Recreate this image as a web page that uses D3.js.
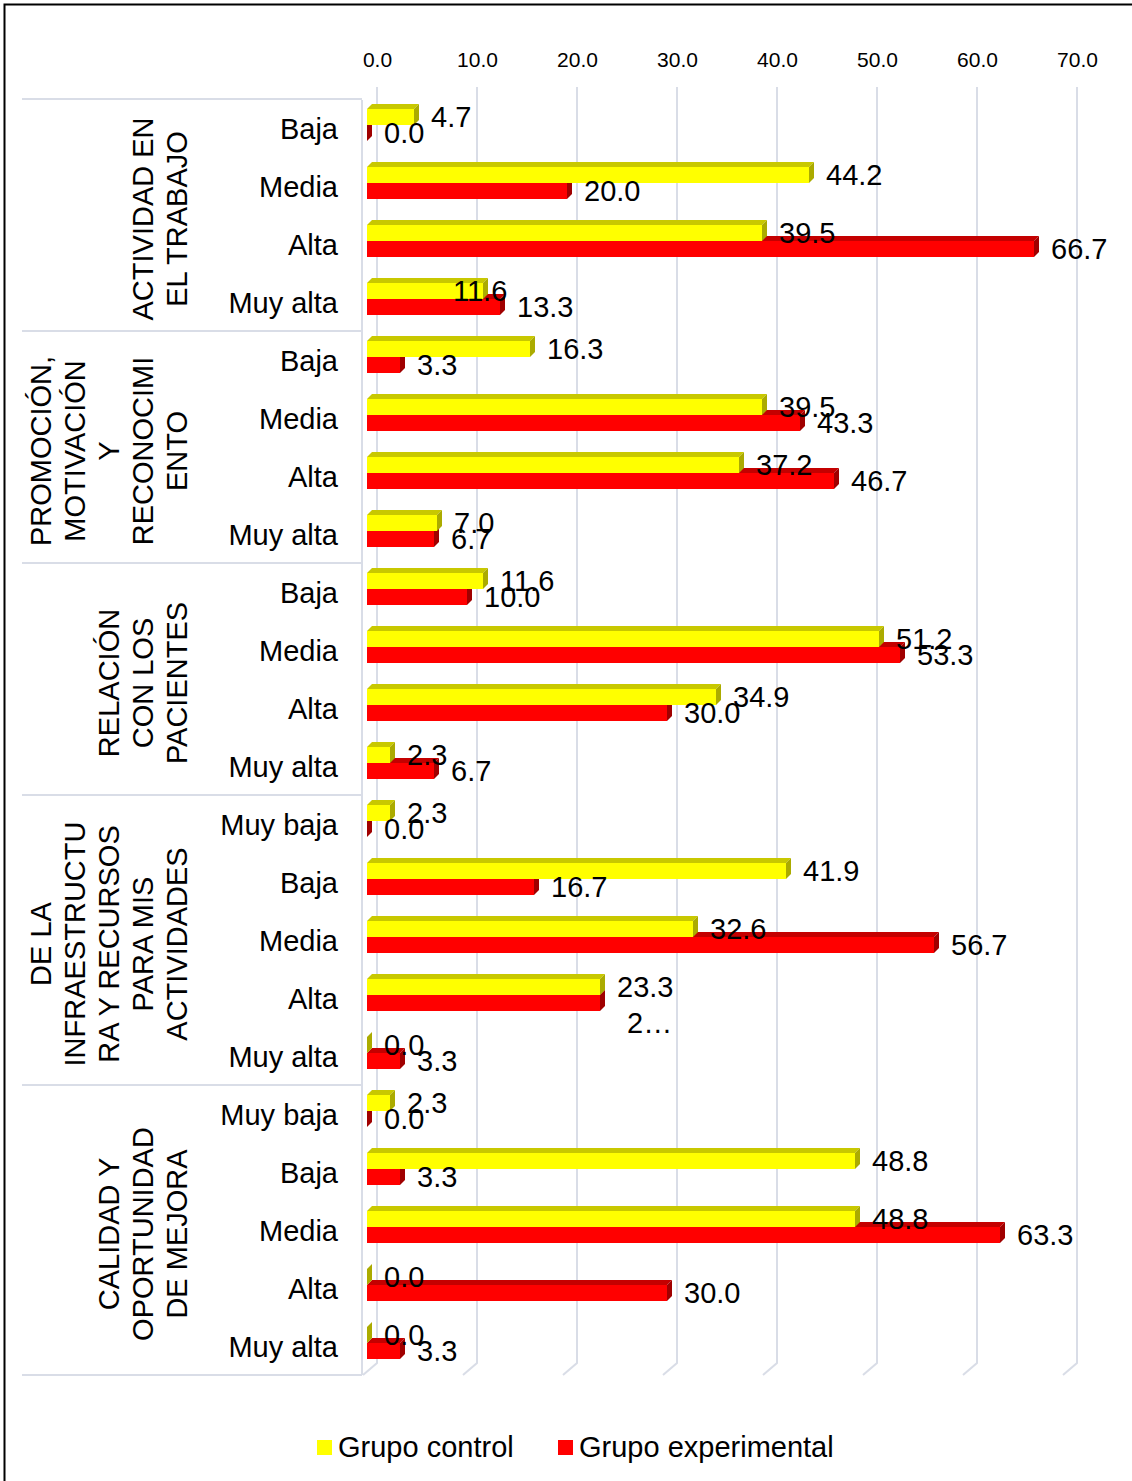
<!DOCTYPE html>
<html>
<head>
<meta charset="utf-8">
<script src="https://cdn.jsdelivr.net/npm/d3@7"></script>
<style>
  html, body { margin: 0; padding: 0; background: #fff; }
  svg { display: block; font-family: "Liberation Sans", Arial, sans-serif; }
</style>
</head>
<body>
<svg id="chart" width="1132" height="1481"></svg>
<script>
// Dimension names (wrapped as they are printed on the axis)
const groupLabels = [
  ["ACTIVIDAD EN", "EL TRABAJO"],
  ["PROMOCIÓN,", "MOTIVACIÓN", "Y", "RECONOCIMI", "ENTO"],
  ["RELACIÓN", "CON LOS", "PACIENTES"],
  ["DE LA", "INFRAESTRUCTU", "RA Y RECURSOS", "PARA MIS", "ACTIVIDADES"],
  ["CALIDAD Y", "OPORTUNIDAD", "DE MEJORA"]
];

// Levels inside each dimension
const groupCategories = [
  ["Baja", "Media", "Alta", "Muy alta"],
  ["Baja", "Media", "Alta", "Muy alta"],
  ["Baja", "Media", "Alta", "Muy alta"],
  ["Muy baja", "Baja", "Media", "Alta", "Muy alta"],
  ["Muy baja", "Baja", "Media", "Alta", "Muy alta"]
];

// Percentages per level
const grupoControl = [
  [4.7, 44.2, 39.5, 11.6],
  [16.3, 39.5, 37.2, 7.0],
  [11.6, 51.2, 34.9, 2.3],
  [2.3, 41.9, 32.6, 23.3, 0.0],
  [2.3, 48.8, 48.8, 0.0, 0.0]
];
const grupoExperimental = [
  [0.0, 20.0, 66.7, 13.3],
  [3.3, 43.3, 46.7, 6.7],
  [10.0, 53.3, 30.0, 6.7],
  [0.0, 16.7, 56.7, 23.3, 3.3],
  [0.0, 3.3, 63.3, 30.0, 3.3]
];

const tickValues = [0, 10, 20, 30, 40, 50, 60, 70];
const seriesNames = ["Grupo control", "Grupo experimental"];

// ---- flatten into rows ----
const rows = [];
groupCategories.forEach((cats, g) => {
  cats.forEach((c, k) => {
    rows.push({ id: g + "-" + k, group: g, cat: c,
                control: grupoControl[g][k], exp: grupoExperimental[g][k] });
  });
});

const svg = d3.select("#chart");
const W = 1132, H = 1481;

svg.append("rect").attr("width", W).attr("height", H).attr("fill", "#fff");
// outer frame
svg.append("rect").attr("x", 4.5).attr("y", 4.5).attr("width", 1300).attr("height", 1600)
  .attr("fill", "none").attr("stroke", "#000").attr("stroke-width", 2);

// scales
const x = d3.scaleLinear().domain([0, 70]).range([367, 1067]);
const y = d3.scaleBand().domain(rows.map(r => r.id)).range([100, 1376]).padding(0);

const wallDx = 10;           // back wall offset of the value grid
const floorDx = -14, floorDy = 12;
const gridTop = 87, gridBottom = 1363;
const depth = { dx: 5, dy: -5 };
const barH = 16;

const colors = {
  control: { front: "#FFFF00", top: "#C8C800", side: "#ABAB00" },
  exp:     { front: "#FF0000", top: "#C40000", side: "#A00000" }
};

// ---- value gridlines (back wall + floor) ----
const grid = svg.append("g").attr("fill", "none").attr("stroke", "#d9dde7").attr("stroke-width", 2);
tickValues.forEach(v => {
  const gx = x(v) + wallDx;
  grid.append("path")
    .attr("d", `M${gx},${gridTop}L${gx},${gridBottom}L${gx + floorDx},${gridBottom + floorDy}`);
});

// tick labels on top
const axisTop = d3.axisTop(d3.scaleLinear().domain([0, 70]).range([x(0) + wallDx, x(70) + wallDx]))
  .tickValues(tickValues).tickFormat(d3.format(".1f")).tickSize(0).tickPadding(0);
const axG = svg.append("g").attr("transform", "translate(0,67)").call(axisTop);
axG.select(".domain").remove();
axG.selectAll("text").attr("font-size", 21).attr("fill", "#000")
  .attr("font-family", "'Liberation Sans', Arial, sans-serif").attr("dy", 0);

// ---- category axis frame ----
const catG = svg.append("g").attr("stroke", "#d9dde7").attr("stroke-width", 2).attr("fill", "none");
catG.append("line").attr("x1", 362).attr("x2", 362).attr("y1", 100).attr("y2", 1375);
const groupStart = [];
let idx = 0;
groupCategories.forEach((cats, g) => { groupStart.push(idx); idx += cats.length; });
const bounds = groupStart.map(i => y(rows[i].id)).concat([y.range()[1]]);
bounds.forEach(b => {
  catG.append("line").attr("x1", 22).attr("x2", 362).attr("y1", b - 1).attr("y2", b - 1);
});

// ---- 3D bars ----
function bar3d(g, v, yTop, col) {
  const x0 = x(0), x1 = x(v);
  const { dx, dy } = depth;
  g.append("rect").attr("x", x0).attr("y", yTop).attr("width", Math.max(0, x1 - x0)).attr("height", barH)
    .attr("fill", col.front);
  g.append("path")
    .attr("d", `M${x0},${yTop}L${x1},${yTop}L${x1 + dx},${yTop + dy}L${x0 + dx},${yTop + dy}Z`)
    .attr("fill", col.top);
  g.append("path")
    .attr("d", `M${x1},${yTop}L${x1 + dx},${yTop + dy}L${x1 + dx},${yTop + barH + dy}L${x1},${yTop + barH}Z`)
    .attr("fill", col.side);
}

const barsG = svg.append("g");
rows.forEach(r => {
  const c = y(r.id) + y.bandwidth() / 2;
  const g = barsG.append("g");
  bar3d(g, r.exp, c - 4, colors.exp);
  bar3d(g, r.control, c - 20, colors.control);
});

// ---- data labels ----
const fmt = d3.format(".1f");
const labelNudge = { "0-3:control": { dx: -47 } };
const labelText = { "3-3:exp": { text: "2\u2026", dx: 10, dy: 20 } };
const lblG = svg.append("g").attr("font-size", 29).attr("fill", "#000");
rows.forEach(r => {
  const c = y(r.id) + y.bandwidth() / 2;
  [["control", r.control, c - 12], ["exp", r.exp, c + 4]].forEach(([s, v, cy]) => {
    const key = r.id + ":" + s;
    const n = labelNudge[key] || labelText[key] || {};
    lblG.append("text")
      .attr("x", x(v) + 17 + (n.dx || 0))
      .attr("y", cy + 10 + (n.dy || 0))
      .text(n.text || fmt(v));
  });
});

// ---- category labels ----
const catLbl = svg.append("g").attr("font-size", 29).attr("fill", "#000").attr("text-anchor", "end");
rows.forEach(r => {
  const c = y(r.id) + y.bandwidth() / 2;
  catLbl.append("text").attr("x", 338).attr("y", c + 10).text(r.cat);
});

// ---- dimension labels (rotated) ----
const grpLbl = svg.append("g").attr("font-size", 29).attr("fill", "#000").attr("text-anchor", "middle");
groupLabels.forEach((lines, g) => {
  const cy = (bounds[g] + bounds[g + 1]) / 2 + 3;
  const n = lines.length;
  lines.forEach((ln, i) => {
    const bx = 187 - (n - 1 - i) * 34;
    grpLbl.append("text")
      .attr("transform", `translate(${bx},${cy}) rotate(-90)`)
      .text(ln);
  });
});

// ---- legend ----
const leg = svg.append("g").attr("font-size", 29).attr("fill", "#000");
const legItems = [
  { name: seriesNames[0], color: colors.control.front, x: 317 },
  { name: seriesNames[1], color: colors.exp.front, x: 558 }
];
legItems.forEach(it => {
  leg.append("rect").attr("x", it.x).attr("y", 1440).attr("width", 15).attr("height", 15).attr("fill", it.color);
  leg.append("text").attr("x", it.x + 21).attr("y", 1457).text(it.name);
});
</script>
</body>
</html>
